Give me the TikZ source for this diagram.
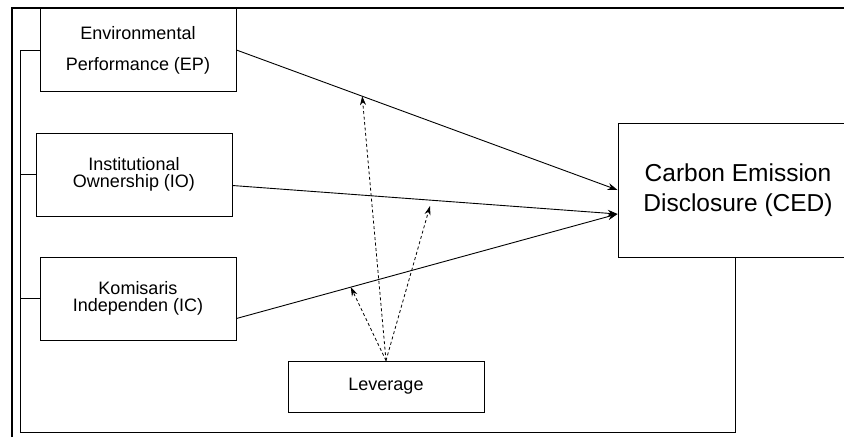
\documentclass[tikz,border=0pt]{standalone}
\usepackage{fontspec}
\setmainfont{Liberation Sans}
\usetikzlibrary{arrows.meta,calc}
\tikzset{
  varbox/.style={draw, line width=0.9pt, minimum width=196, minimum height=83,
    inner sep=0pt, align=center, font=\fontsize{18}{17.5}\selectfont},
  path/.style={-{Stealth[length=10pt,width=7pt]}, line width=0.9pt},
  moderate/.style={-{Stealth[length=9pt,width=6pt]}, line width=0.8pt, dash pattern=on 3pt off 2.5pt}
}
\begin{document}
\begin{tikzpicture}[x=1pt,y=-1pt]
\useasboundingbox (0,0) rectangle (844,437);
\clip (0,0) rectangle (844,437);
\draw[line width=1.6pt] (12,437) -- (12,8) -- (844,8);
\node[varbox, font=\fontsize{18}{31}\selectfont] (EP) at (138,50) {Environmental\\Performance (EP)};
\node[varbox] (IO) at (134,174.5) {Institutional\\Ownership (IO)};
\node[varbox] (IC) at (138,298.5) {Komisaris\\Independen (IC)};
\node[varbox, minimum height=51] (LEV) at (386,386.5) {Leverage};
\node[varbox, minimum width=240, minimum height=134, font=\fontsize{24.5}{30}\selectfont] (CED) at (738,190) {Carbon Emission\\Disclosure (CED)};
\coordinate (ceda) at ([yshift=-24pt]CED.west);
\draw[path] (EP.east) -- (CED.west);
\draw[path] ([yshift=-11pt]IO.east) -- (ceda);
\draw[path] ([yshift=-20pt]IC.east) -- (ceda);
\coordinate (m1) at ($(EP.east)!0.33!(CED.west)$);
\coordinate (m2) at (430,206);
\coordinate (m3) at ($([yshift=-20pt]IC.east)!0.3!(ceda)$);
\draw[moderate] (LEV.north) -- (m1);
\draw[moderate] (LEV.north) -- (m2);
\draw[moderate] (LEV.north) -- (m3);
\draw[line width=0.9pt] (EP.west) -- (20,50) -- (20,432) -- (735,432) -- (735,257);
\draw[line width=0.9pt] (IO.west) -- (20,174.5);
\draw[line width=0.9pt] (IC.west) -- (20,298.5);
\end{tikzpicture}
\end{document}
